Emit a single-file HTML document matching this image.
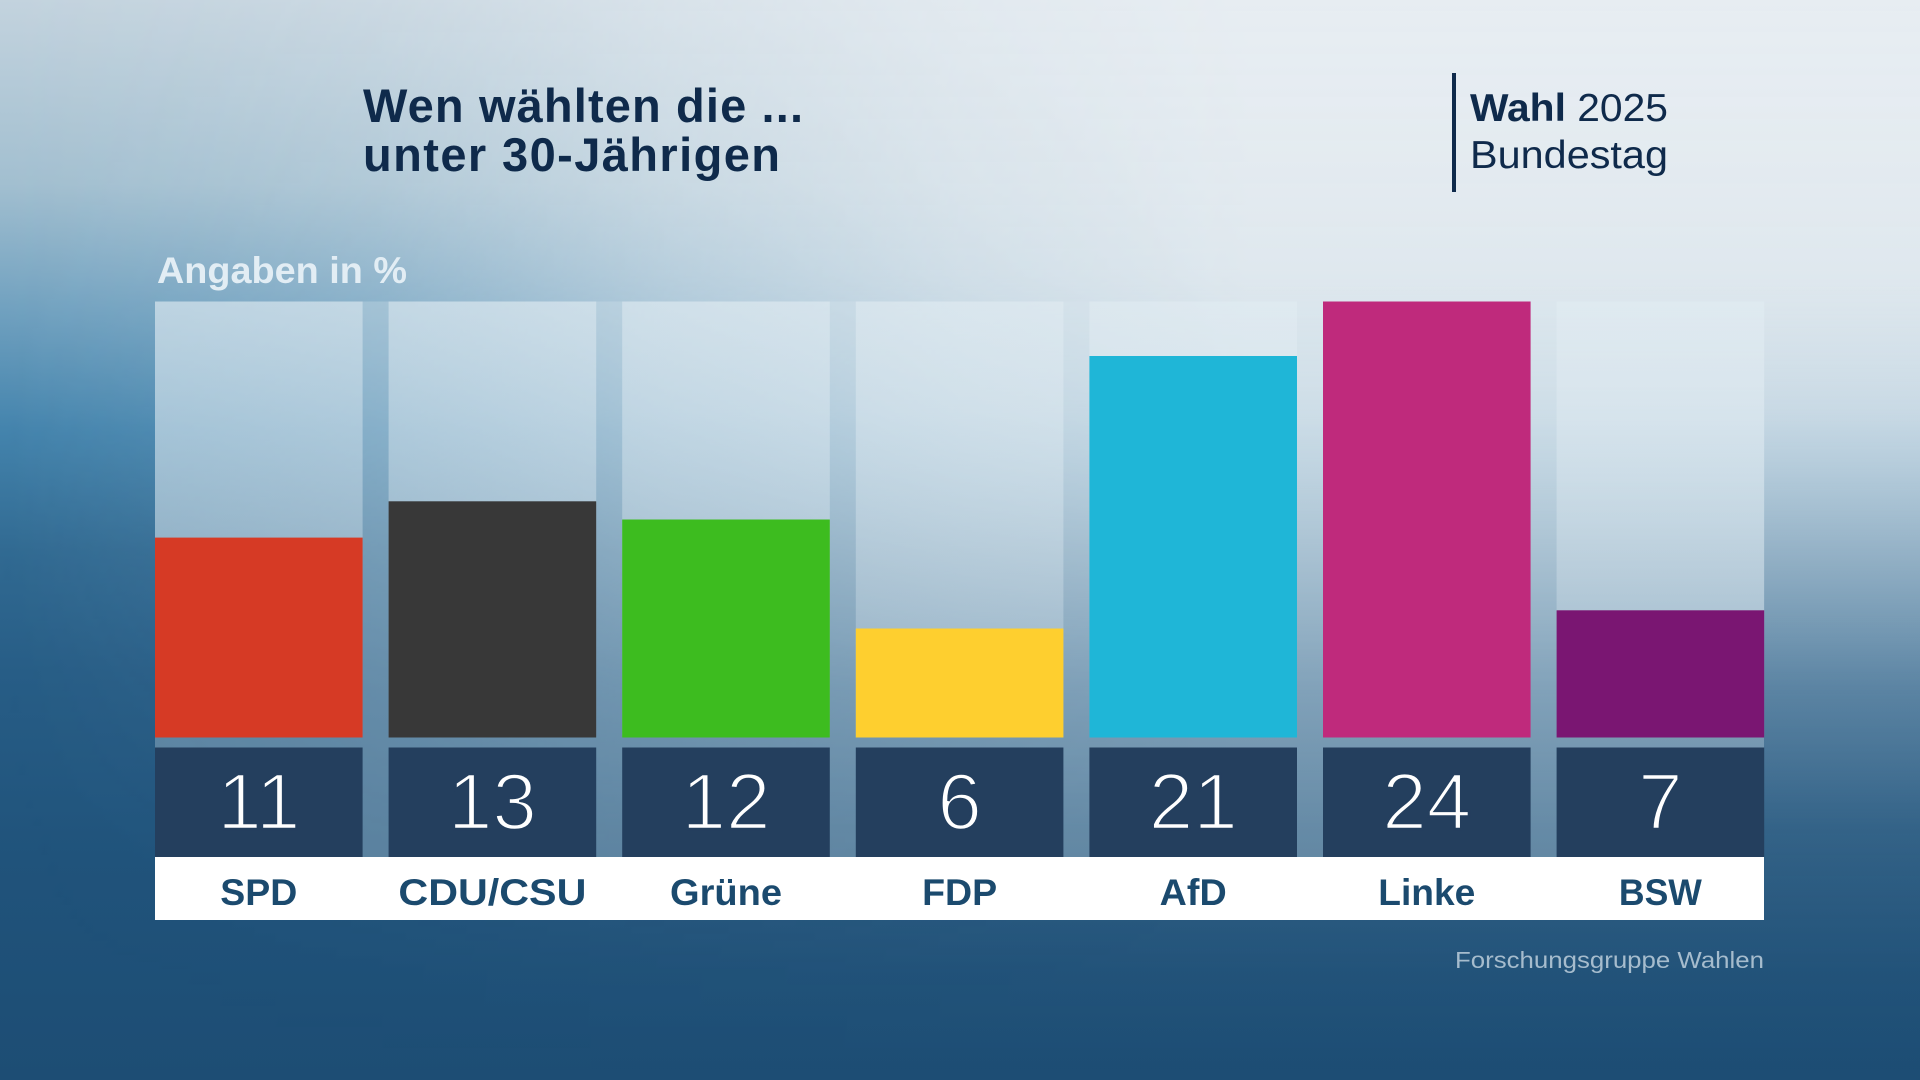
<!DOCTYPE html>
<html>
<head>
<meta charset="utf-8">
<style>
  html, body { margin:0; padding:0; width:1920px; height:1080px; overflow:hidden; background:#1e4f77; }
  svg { display:block; }
  text { font-family: "Liberation Sans", Arial, sans-serif; }
</style>
</head>
<body>
<svg width="1920" height="1080" viewBox="0 0 1920 1080" xmlns="http://www.w3.org/2000/svg">
  <defs>
    <linearGradient id="base" x1="0" y1="0" x2="0" y2="1">
      <stop offset="0" stop-color="#c3d3de"/>
      <stop offset="0.17" stop-color="#a2bfd0"/>
      <stop offset="0.283" stop-color="#72a2c0"/>
      <stop offset="0.397" stop-color="#4484ad"/>
      <stop offset="0.51" stop-color="#316a92"/>
      <stop offset="0.623" stop-color="#275d86"/>
      <stop offset="0.794" stop-color="#20537b"/>
      <stop offset="1" stop-color="#1d4d74"/>
    </linearGradient>
    <linearGradient id="fogV" x1="0" y1="0" x2="0" y2="1">
      <stop offset="0" stop-color="#e7edf2" stop-opacity="1"/>
      <stop offset="0.255" stop-color="#e4ebf0" stop-opacity="0.95"/>
      <stop offset="0.382" stop-color="#e4ebf0" stop-opacity="0.82"/>
      <stop offset="0.51" stop-color="#e4ebf0" stop-opacity="0.56"/>
      <stop offset="0.638" stop-color="#e4ebf0" stop-opacity="0.28"/>
      <stop offset="0.765" stop-color="#e4ebf0" stop-opacity="0.1"/>
      <stop offset="0.9" stop-color="#e4ebf0" stop-opacity="0.02"/>
      <stop offset="1" stop-color="#e4ebf0" stop-opacity="0"/>
    </linearGradient>
    <linearGradient id="fogH" x1="0" y1="0" x2="1" y2="0">
      <stop offset="0" stop-color="#000"/>
      <stop offset="0.1" stop-color="#1a1a1a"/>
      <stop offset="0.2" stop-color="#404040"/>
      <stop offset="0.35" stop-color="#999"/>
      <stop offset="0.5" stop-color="#d9d9d9"/>
      <stop offset="0.65" stop-color="#fff"/>
      <stop offset="1" stop-color="#fff"/>
    </linearGradient>
    <mask id="fogMask" maskUnits="userSpaceOnUse" x="0" y="0" width="1920" height="1080">
      <rect x="0" y="0" width="1920" height="1080" fill="url(#fogH)"/>
    </mask>
    <linearGradient id="col" x1="0" y1="0" x2="0" y2="1">
      <stop offset="0" stop-color="#e3edf3" stop-opacity="0.5"/>
      <stop offset="1" stop-color="#e3edf3" stop-opacity="0.22"/>
    </linearGradient>
  </defs>

  <!-- background -->
  <rect x="0" y="0" width="1920" height="1080" fill="url(#base)"/>
  <rect x="0" y="0" width="1920" height="1080" fill="url(#fogV)" mask="url(#fogMask)"/>

  <!-- title -->
  <text x="363" y="122" font-size="47" font-weight="bold" fill="#0f2a4b" textLength="440" lengthAdjust="spacing">Wen wählten die ...</text>
  <text x="363" y="171" font-size="47" font-weight="bold" fill="#0f2a4b" textLength="417" lengthAdjust="spacing">unter 30-Jährigen</text>

  <!-- Wahl 2025 -->
  <rect x="1452" y="73" width="4" height="119" fill="#0f2a4b"/>
  <text x="1470" y="121" font-size="39" fill="#0f2a4b" textLength="198" lengthAdjust="spacingAndGlyphs"><tspan font-weight="bold">Wahl</tspan> 2025</text>
  <text x="1470" y="168" font-size="39" fill="#0f2a4b" textLength="198" lengthAdjust="spacingAndGlyphs">Bundestag</text>

  <!-- Angaben -->
  <text x="157" y="283" font-size="37" font-weight="bold" fill="#e2edf4" textLength="250" lengthAdjust="spacingAndGlyphs">Angaben in %</text>

  <!-- chart panel -->
  <rect x="155" y="301.5" width="1609" height="555.5" fill="#dce8f0" fill-opacity="0.3"/>

  <!-- column backgrounds -->
  <g fill="url(#col)">
    <rect x="155" y="301.5" width="207.6" height="436"/>
    <rect x="388.6" y="301.5" width="207.6" height="436"/>
    <rect x="622.2" y="301.5" width="207.6" height="436"/>
    <rect x="855.8" y="301.5" width="207.6" height="436"/>
    <rect x="1089.4" y="301.5" width="207.6" height="436"/>
    <rect x="1323" y="301.5" width="207.6" height="436"/>
    <rect x="1556.6" y="301.5" width="207.6" height="436"/>
  </g>

  <!-- bars -->
  <rect x="155" y="537.6" width="207.6" height="199.9" fill="#d63a25"/>
  <rect x="388.6" y="501.3" width="207.6" height="236.2" fill="#383838"/>
  <rect x="622.2" y="519.5" width="207.6" height="218" fill="#3dbc1f"/>
  <rect x="855.8" y="628.5" width="207.6" height="109" fill="#fecf2f"/>
  <rect x="1089.4" y="356" width="207.6" height="381.5" fill="#1fb6d7"/>
  <rect x="1323" y="301.5" width="207.6" height="436" fill="#bf2a7c"/>
  <rect x="1556.6" y="610.3" width="207.6" height="127.2" fill="#7a1672"/>

  <!-- number boxes -->
  <g fill="#243f5e">
    <rect x="155" y="747.5" width="207.6" height="109.5"/>
    <rect x="388.6" y="747.5" width="207.6" height="109.5"/>
    <rect x="622.2" y="747.5" width="207.6" height="109.5"/>
    <rect x="855.8" y="747.5" width="207.6" height="109.5"/>
    <rect x="1089.4" y="747.5" width="207.6" height="109.5"/>
    <rect x="1323" y="747.5" width="207.6" height="109.5"/>
    <rect x="1556.6" y="747.5" width="207.6" height="109.5"/>
  </g>
  <g font-size="80" fill="#ffffff" stroke="#243f5e" stroke-width="2.4" text-anchor="middle">
    <text x="258.8" y="829">11</text>
    <text x="492.4" y="829">13</text>
    <text x="726" y="829">12</text>
    <text x="959.6" y="829">6</text>
    <text x="1193.2" y="829">21</text>
    <text x="1426.8" y="829">24</text>
    <text x="1660.4" y="829">7</text>
  </g>

  <!-- label band -->
  <rect x="155" y="857" width="1609" height="63" fill="#ffffff"/>
  <g font-size="37" font-weight="bold" fill="#1b4a6e" text-anchor="middle">
    <text x="258.8" y="905" textLength="77" lengthAdjust="spacingAndGlyphs">SPD</text>
    <text x="492.4" y="905" textLength="188" lengthAdjust="spacingAndGlyphs">CDU/CSU</text>
    <text x="726" y="905" textLength="112" lengthAdjust="spacingAndGlyphs">Grüne</text>
    <text x="959.6" y="905" textLength="75" lengthAdjust="spacingAndGlyphs">FDP</text>
    <text x="1193.2" y="905" textLength="67" lengthAdjust="spacingAndGlyphs">AfD</text>
    <text x="1426.8" y="905" textLength="97" lengthAdjust="spacingAndGlyphs">Linke</text>
    <text x="1660.4" y="905" textLength="83" lengthAdjust="spacingAndGlyphs">BSW</text>
  </g>

  <!-- source -->
  <text x="1764" y="968" font-size="23" fill="#a6bccd" text-anchor="end" textLength="309" lengthAdjust="spacingAndGlyphs">Forschungsgruppe Wahlen</text>
</svg>
</body>
</html>
